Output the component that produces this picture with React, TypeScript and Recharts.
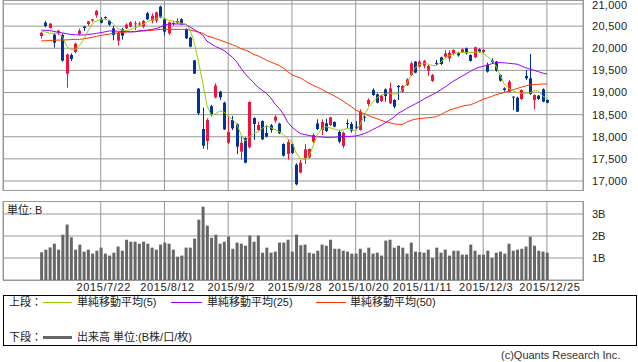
import React from "react";
import {
  ComposedChart,
  Bar,
  Line,
  XAxis,
  YAxis,
  CartesianGrid,
} from "recharts";

// trading days, 2015
const dates = [
  "7/1", "7/2", "7/3", "7/6", "7/7", "7/8", "7/9", "7/10", "7/13", "7/14",
  "7/15", "7/16", "7/17", "7/21", "7/22", "7/23", "7/24", "7/27", "7/28", "7/29",
  "7/30", "7/31", "8/3", "8/4", "8/5", "8/6", "8/7", "8/10", "8/11", "8/12",
  "8/13", "8/14", "8/17", "8/18", "8/19", "8/20", "8/21", "8/24", "8/25", "8/26",
  "8/27", "8/28", "8/31", "9/1", "9/2", "9/3", "9/4", "9/7", "9/8", "9/9",
  "9/10", "9/11", "9/14", "9/15", "9/16", "9/17", "9/18", "9/24", "9/25", "9/28",
  "9/29", "9/30", "10/1", "10/2", "10/5", "10/6", "10/7", "10/8", "10/9", "10/13",
  "10/14", "10/15", "10/16", "10/19", "10/20", "10/21", "10/22", "10/23", "10/26", "10/27",
  "10/28", "10/29", "10/30", "11/2", "11/4", "11/5", "11/6", "11/9", "11/10", "11/11",
  "11/12", "11/13", "11/16", "11/17", "11/18", "11/19", "11/20", "11/24", "11/25", "11/26",
  "11/27", "11/30", "12/1", "12/2", "12/3", "12/4", "12/7", "12/8", "12/9", "12/10",
  "12/11", "12/14", "12/15", "12/16", "12/17", "12/18", "12/21", "12/22", "12/24", "12/25",
];

const opens = [
  20277, 20578, 20458, 20307, 20337, 20300, 19425, 19847, 19915, 20322,
  20488, 20548, 20623, 20744, 20661, 20706, 20623, 20450, 20171, 20427,
  20450, 20488, 20540, 20540, 20488, 20789, 20623, 20623, 20940, 20653,
  20337, 20548, 20578, 20653, 20435, 20239, 19727, 19087, 18175, 17904,
  18690, 18891, 19019, 18770, 17866, 18378, 18280, 17663, 17971, 17761,
  18424, 18152, 18356, 18085, 18258, 18363, 18295, 17836, 17610, 17836,
  17369, 17189, 17512, 17535, 17889, 18303, 18152, 18303, 18265, 18333,
  18107, 17791, 18310, 18288, 18230, 18152, 18454, 18740, 19056, 18959,
  18808, 19070, 18755, 18830, 19150, 19019, 19170, 19395, 19697, 19584,
  19606, 19493, 19260, 19670, 19795, 19810, 19772, 19885, 19885, 19915,
  19998, 19847, 19795, 19975, 19915, 19622, 19720, 19697, 19395, 19094,
  19019, 18906, 18883, 18853, 19373, 19320, 18830, 18928, 19072, 18830,
];
const highs = [
  20360, 20616, 20571, 20345, 20412, 20337, 19880, 19885, 20126, 20442,
  20510, 20615, 20661, 20864, 20699, 20721, 20638, 20503, 20367, 20458,
  20563, 20608, 20616, 20600, 20638, 20819, 20789, 20827, 20962, 20676,
  20601, 20623, 20676, 20676, 20450, 20262, 19734, 19100, 18657, 18416,
  18720, 19207, 19041, 18793, 18454, 18469, 18303, 18002, 17986, 18800,
  18439, 18341, 18371, 18258, 18288, 18484, 18318, 17851, 17926, 17851,
  17399, 17475, 17836, 17731, 18077, 18394, 18394, 18409, 18454, 18348,
  18152, 18115, 18393, 18333, 18350, 18620, 18529, 18868, 19094, 18981,
  18944, 19094, 19222, 18853, 19170, 19170, 19320, 19697, 19712, 19734,
  19734, 19620, 19418, 19734, 19810, 19960, 19960, 19975, 19923, 19998,
  20013, 19862, 20036, 19998, 19983, 19674, 19772, 19712, 19418, 19117,
  19282, 18915, 18906, 19072, 19508, 19870, 18959, 18943, 19094, 18845,
];
const lows = [
  20217, 20473, 20443, 20013, 20300, 19697, 19109, 19712, 19885, 20292,
  20390, 20503, 20586, 20691, 20563, 20653, 20503, 20179, 20058, 20194,
  20435, 20473, 20412, 20500, 20450, 20638, 20563, 20578, 20676, 20284,
  20300, 20503, 20548, 20525, 20209, 20021, 19418, 18491, 17731, 17708,
  18460, 18868, 18830, 18152, 17836, 18152, 17610, 17482, 17399, 17738,
  17926, 18137, 17926, 17986, 18092, 18318, 18062, 17550, 17482, 17610,
  16902, 17173, 17384, 17505, 17851, 18152, 18039, 18107, 18243, 18213,
  17851, 17738, 18190, 18092, 18150, 18140, 18340, 18695, 18921, 18755,
  18785, 18793, 18740, 18642, 18830, 18996, 19147, 19373, 19433, 19570,
  19546, 19373, 19237, 19622, 19622, 19772, 19697, 19840, 19810, 19900,
  19862, 19697, 19780, 19900, 19870, 19448, 19659, 19470, 19245, 19019,
  18996, 18604, 18560, 18830, 19282, 18943, 18620, 18830, 18778, 18755,
];
const closes = [
  20352, 20503, 20556, 20126, 20397, 19720, 19860, 19757, 20104, 20397,
  20458, 20608, 20654, 20842, 20578, 20691, 20533, 20300, 20352, 20284,
  20533, 20586, 20563, 20560, 20616, 20653, 20736, 20812, 20714, 20375,
  20586, 20571, 20616, 20548, 20224, 20036, 19426, 18529, 17798, 18378,
  18500, 19155, 18891, 18168, 18107, 18190, 17776, 17866, 17414, 18785,
  18288, 18265, 17941, 18002, 18152, 18454, 18077, 17573, 17881, 17633,
  16925, 17414, 17716, 17725, 18039, 18175, 18333, 18130, 18439, 18228,
  17889, 18092, 18295, 18137, 18207, 18567, 18430, 18830, 18944, 18770,
  18928, 18920, 19094, 18680, 19120, 19147, 19298, 19659, 19448, 19697,
  19712, 19599, 19395, 19650, 19644, 19885, 19900, 19960, 19840, 19975,
  19885, 19712, 20021, 19922, 19960, 19471, 19690, 19493, 19267, 19056,
  19245, 18890, 18567, 19056, 19320, 18966, 18943, 18853, 18793, 18770,
];

// moving averages as drawn on the chart
const ma5 = [
  20390, 20367, 20340, 20337, 20337, 20262, 20040, 19975, 19975, 20060,
  20200, 20390, 20545, 20620, 20638, 20661, 20630, 20540, 20450, 20410,
  20397, 20420, 20460, 20495, 20540, 20600, 20640, 20660, 20699, 20680,
  20630, 20610, 20585, 20565, 20545, 20430, 20130, 19700, 19220, 18700,
  18491, 18520, 18580, 18560, 18470, 18390, 18290, 18050, 17900, 18000,
  18070, 18110, 18190, 18243, 18210, 18160, 18120, 18050, 17950, 17900,
  17630, 17505, 17490, 17560, 17800, 18050, 18180, 18228, 18200, 18170,
  18152, 18150, 18190, 18160, 18137, 18260, 18480, 18660, 18780, 18880,
  18940, 18970, 18981, 18960, 18981, 19060, 19200, 19390, 19560, 19630,
  19659, 19644, 19610, 19606, 19680, 19780, 19830, 19870, 19900, 19900,
  19900, 19900, 19910, 19920, 19885, 19810, 19734, 19600, 19400, 19180,
  19100, 19040, 19000, 18981, 18985, 18990, 19040, 19040, 18920, 18860,
];
const ma25 = [
  20412, 20405, 20398, 20380, 20360, 20345, 20330, 20310, 20305, 20300,
  20300, 20310, 20322, 20337, 20352, 20370, 20390, 20390, 20385, 20380,
  20375, 20367, 20370, 20390, 20400, 20412, 20425, 20442, 20480, 20520,
  20548, 20548, 20548, 20545, 20540, 20480, 20420, 20360, 20300, 20160,
  20100, 20040, 19998, 19950, 19870, 19800, 19690, 19550, 19420, 19320,
  19220, 19120, 19050, 18980, 18880, 18740, 18640, 18510, 18330, 18220,
  18140, 18070, 18050, 18030, 18010, 18002, 17995, 17986, 17986, 17990,
  17995, 18002, 18005, 18010, 18017, 18040, 18070, 18110, 18160, 18210,
  18260, 18320, 18378, 18440, 18529, 18580, 18640, 18690, 18740, 18790,
  18850, 18900, 18950, 18996, 19060, 19120, 19190, 19260, 19310, 19370,
  19420, 19480, 19530, 19570, 19590, 19620, 19650, 19670, 19674, 19670,
  19660, 19650, 19640, 19600, 19560, 19530, 19500, 19470, 19440, 19418,
];
const ma50 = [
  20164, 20170, 20175, 20180, 20185, 20186, 20190, 20195, 20200, 20200,
  20215, 20230, 20245, 20270, 20290, 20305, 20320, 20337, 20345, 20355,
  20365, 20375, 20380, 20385, 20390, 20397, 20405, 20415, 20425, 20427,
  20427, 20427, 20427, 20427, 20427, 20410, 20390, 20365, 20340, 20280,
  20250, 20220, 20186, 20150, 20115, 20080, 20040, 19990, 19960, 19920,
  19860, 19830, 19780, 19730, 19690, 19650, 19610, 19550, 19470, 19400,
  19360, 19330, 19270, 19210, 19160, 19120, 19072, 19020, 18970, 18920,
  18868, 18810, 18740, 18680, 18604, 18560, 18520, 18480, 18439, 18410,
  18370, 18340, 18320, 18290, 18280, 18280, 18330, 18370, 18395, 18410,
  18420, 18430, 18440, 18454, 18500, 18550, 18600, 18630, 18660, 18690,
  18710, 18720, 18760, 18800, 18850, 18880, 18910, 18950, 18975, 19000,
  19030, 19060, 19090, 19120, 19150, 19170, 19180, 19185, 19190, 19192,
];

// volume, billions of shares
const volumes = [
  1.26, 1.38, 1.48, 1.65, 1.38, 2.06, 2.52, 1.94, 1.38, 1.61,
  1.29, 1.38, 1.2, 1.33, 1.47, 1.2, 1.11, 1.24, 1.52, 1.33,
  1.83, 1.74, 1.74, 1.65, 1.74, 1.65, 1.47, 1.38, 1.61, 1.7,
  1.65, 1.38, 1.06, 1.11, 1.47, 1.47, 1.88, 2.74, 3.33, 2.47,
  1.92, 2.06, 1.65, 1.74, 1.97, 1.42, 1.7, 1.65, 1.56, 2.02,
  1.74, 2.02, 1.24, 1.47, 1.24, 1.29, 1.7, 1.7, 1.83, 1.29,
  2.06, 1.58, 1.61, 1.24, 1.2, 1.33, 1.61, 1.56, 1.83, 1.42,
  1.42, 1.33, 1.29, 1.2, 1.2, 1.42, 1.24, 1.47, 1.2, 1.24,
  1.11, 1.79, 1.83, 1.47, 1.56, 1.47, 1.2, 1.7, 1.29, 1.27,
  1.24, 1.38, 1.0, 1.47, 1.24, 1.38, 1.11, 1.33, 1.33, 1.15,
  1.15, 1.61, 1.33, 1.15, 1.15, 1.33, 1.0, 1.24, 1.29, 1.2,
  1.65, 1.33, 1.38, 1.42, 1.52, 1.97, 1.56, 1.33, 1.29, 1.24,
];

const tickDates = ["7/22", "8/12", "9/2", "9/28", "10/20", "11/11", "12/3", "12/25"];
const priceTicks = [17000, 17500, 18000, 18500, 19000, 19500, 20000, 20500, 21000];
const volumeTicks = [1, 2, 3];

const RED = "#f0143c";
const BLUE = "#003399";
const GRID = "#999999";
const FONT = '"Liberation Sans", "Noto Sans CJK JP", sans-serif';

const data = dates.map((date, i) => ({
  i,
  date,
  open: opens[i],
  high: highs[i],
  low: lows[i],
  close: closes[i],
  ma5: ma5[i],
  ma25: ma25[i],
  ma50: ma50[i],
  volume: volumes[i],
}));

const xTicks = tickDates.map((d) => dates.indexOf(d));
const X_DOMAIN: [number, number] = [-9, 127.5];

function Candle(props: any) {
  const { x, y, width, height, payload } = props;
  if (!payload) return null;
  const top = Math.min(y, y + height);
  const h = Math.abs(height);
  const { open, close, high, low } = payload;
  const k = h / (high - low);
  const color = close >= open ? RED : BLUE;
  const bodyTop = top + (high - Math.max(open, close)) * k;
  const bodyH = Math.max(1, Math.abs(open - close) * k);
  const bx = Math.round(x);
  return (
    <g>
      <line x1={bx + 1.5} x2={bx + 1.5} y1={top} y2={top + h} stroke={color} strokeWidth={1} />
      <rect x={bx} y={bodyTop} width={3} height={bodyH} fill={color} />
    </g>
  );
}

const fmtPrice = (v: number) => v.toLocaleString("en-US");

// keeps the topmost label inside the picture
function PriceTick(props: any) {
  const { x, y, payload } = props;
  return (
    <text
      x={x}
      y={Math.max(y, 5.5)}
      dy="0.355em"
      textAnchor="start"
      fontSize={11}
      fill="#222"
      letterSpacing={0.3}
    >
      {fmtPrice(payload.value)}
    </text>
  );
}

export default function App() {
  const legendText: React.CSSProperties = {
    position: "absolute",
    fontSize: 11,
    color: "#222",
    lineHeight: "14px",
    whiteSpace: "nowrap",
  };
  const swatch = (left: number, top: number, color: string, w: number, h: number) => (
    <div style={{ position: "absolute", left, top, width: w, height: h, background: color }} />
  );

  return (
    <div
      style={{
        position: "absolute",
        left: 0,
        top: 0,
        width: 638,
        height: 362,
        background: "#fff",
        overflow: "hidden",
        fontFamily: FONT,
      }}
    >
      {/* upper panel: candles + moving averages */}
      <div style={{ position: "absolute", left: 0, top: 0 }}>
        <ComposedChart
          width={638}
          height={191}
          data={data}
          margin={{ top: 0, right: 0, bottom: 0, left: 3 }}
        >
          <CartesianGrid stroke={GRID} strokeWidth={1} />
          <XAxis
            dataKey="i"
            type="number"
            domain={X_DOMAIN}
            ticks={xTicks}
            hide
            height={0}
          />
          <YAxis
            orientation="right"
            type="number"
            domain={[16774, 21090]}
            ticks={priceTicks}
            interval={0}
            width={55}
            axisLine={false}
            tickLine={false}
            tickSize={6}
            tickMargin={3}
            tick={<PriceTick />}
            allowDataOverflow
          />
          <Line dataKey="ma50" stroke="#ff3300" strokeWidth={1} dot={false} activeDot={false} isAnimationActive={false} />
          <Line dataKey="ma25" stroke="#9900ff" strokeWidth={1} dot={false} activeDot={false} isAnimationActive={false} />
          <Line dataKey="ma5" stroke="#99cc00" strokeWidth={1} dot={false} activeDot={false} isAnimationActive={false} />
          <Bar
            dataKey={(d: any) => [d.low, d.high]}
            barSize={3}
            shape={(p: any) => <Candle {...p} />}
            isAnimationActive={false}
          />
        </ComposedChart>
      </div>
      <div
        style={{
          position: "absolute",
          left: 3,
          top: 0,
          width: 581,
          height: 191,
          border: `1px solid ${GRID}`,
          boxSizing: "border-box",
          pointerEvents: "none",
        }}
      />

      {/* lower panel: volume */}
      <div style={{ position: "absolute", left: 0, top: 201 }}>
        <ComposedChart
          width={638}
          height={99}
          data={data}
          margin={{ top: 0, right: 0, bottom: 0, left: 3 }}
        >
          <CartesianGrid stroke={GRID} strokeWidth={1} />
          <XAxis
            dataKey="i"
            type="number"
            domain={X_DOMAIN}
            ticks={xTicks}
            interval={0}
            height={20}
            axisLine={false}
            tickLine={false}
            tickSize={0}
            tickMargin={3}
            tickFormatter={(v: number) => "2015/" + dates[v]}
            tick={{ fontSize: 11, fill: "#222", letterSpacing: 0.6, dx: 3 }}
          />
          <YAxis
            orientation="right"
            type="number"
            domain={[0, 3.59]}
            ticks={volumeTicks}
            interval={0}
            width={55}
            axisLine={false}
            tickLine={false}
            tickSize={6}
            tickMargin={3}
            tickFormatter={(v: number) => v + "B"}
            tick={{ fontSize: 11, fill: "#222" }}
            allowDataOverflow
          />
          <Bar dataKey="volume" barSize={3} fill="#666666" isAnimationActive={false} />
        </ComposedChart>
      </div>
      <div
        style={{
          position: "absolute",
          left: 3,
          top: 201,
          width: 581,
          height: 80,
          border: `1px solid ${GRID}`,
          boxSizing: "border-box",
          pointerEvents: "none",
        }}
      />
      <div style={{ ...legendText, left: 7, top: 203 }}>単位: B</div>

      {/* legend box */}
      <div
        style={{
          position: "absolute",
          left: 3,
          top: 295,
          width: 634,
          height: 51,
          border: "1px solid #000",
          boxSizing: "border-box",
        }}
      />
      <div style={{ ...legendText, left: 9, top: 295 }}>上段：</div>
      {swatch(43, 302, "#99cc00", 29, 1)}
      <div style={{ ...legendText, left: 77, top: 295 }}>単純移動平均(5)</div>
      {swatch(171, 302, "#9900ff", 31, 1)}
      <div style={{ ...legendText, left: 207, top: 295 }}>単純移動平均(25)</div>
      {swatch(316, 302, "#ff3300", 30, 1)}
      <div style={{ ...legendText, left: 350, top: 295 }}>単純移動平均(50)</div>

      <div style={{ ...legendText, left: 9, top: 330 }}>下段：</div>
      {swatch(43, 336, "#666666", 29, 3)}
      <div style={{ ...legendText, left: 77, top: 330 }}>出来高 単位:(B株/口/枚)</div>

      <div style={{ ...legendText, left: 501, top: 348, color: "#333" }}>
        (c)Quants Research Inc.
      </div>
    </div>
  );
}
